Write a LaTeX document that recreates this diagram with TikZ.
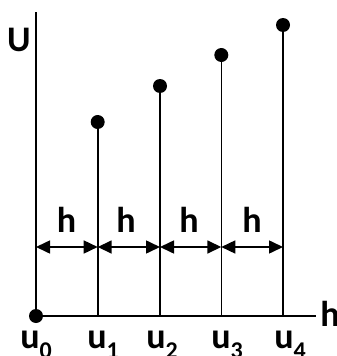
\documentclass[tikz,border=0pt]{standalone}
\usepackage{fontspec}
\setmainfont{Carlito}
\usetikzlibrary{arrows.meta}
\newcommand{\subnum}[1]{\raisebox{-0.28em}{\fontsize{24}{24}\selectfont #1}}
\begin{document}
\begin{tikzpicture}[x=1pt,y=-1pt,
  ln/.style={line width=1.6pt},
  dot/.style={circle,fill=black,inner sep=0pt,minimum size=14pt},
  lab/.style={font=\fontsize{36}{38}\selectfont\bfseries,inner sep=0pt},
  dim/.style={line width=1.6pt,{Triangle[length=14pt,width=13pt]}-{Triangle[length=14pt,width=13pt]}}]
\useasboundingbox (0,0) rectangle (337,356);
% axes
\node[dot] (o) at (36,316) {};
\coordinate (ytop) at (36,12);
\coordinate (xend) at (316,316);
\draw[ln] (ytop) -- (36,316) -- (xend);
% stems
\node[dot] (d1) at (97.7,122) {};
\node[dot] (d2) at (160,86) {};
\node[dot] (d3) at (221.3,55) {};
\node[dot] (d4) at (283,25) {};
\coordinate (b1) at (97.7,316);
\coordinate (b2) at (160,316);
\coordinate (b3) at (221.3,316);
\coordinate (b4) at (283,316);
\draw[ln] (d1.center) -- (b1);
\draw[ln] (d2.center) -- (b2);
\draw[ln] (d3.center) -- (b3);
\draw[ln] (d4.center) -- (b4);
% dimension arrows
\coordinate (a0) at (36,247);
\coordinate (a1) at (97.7,247);
\coordinate (a2) at (160,247);
\coordinate (a3) at (221.3,247);
\coordinate (a4) at (283,247);
\draw[dim] (a0) -- (a1);
\draw[dim] (a1) -- (a2);
\draw[dim] (a2) -- (a3);
\draw[dim] (a3) -- (a4);
\node[lab,anchor=base] (h1) at (66.5,232) {h};
\node[lab,anchor=base] (h2) at (126,232) {h};
\node[lab,anchor=base] (h3) at (189,232) {h};
\node[lab,anchor=base] (h4) at (252,232) {h};
% axis labels
\node[lab,anchor=base] (U) at (19,51) {U};
\node[lab,anchor=base] (hx) at (330,326) {h};
\node[lab,anchor=base] (u0) at (36,348) {u\subnum{0}};
\node[lab,anchor=base] (u1) at (103,348) {u\subnum{1}};
\node[lab,anchor=base] (u2) at (162,348) {u\subnum{2}};
\node[lab,anchor=base] (u3) at (227,348) {u\subnum{3}};
\node[lab,anchor=base] (u4) at (290,348) {u\subnum{4}};
\end{tikzpicture}
\end{document}
